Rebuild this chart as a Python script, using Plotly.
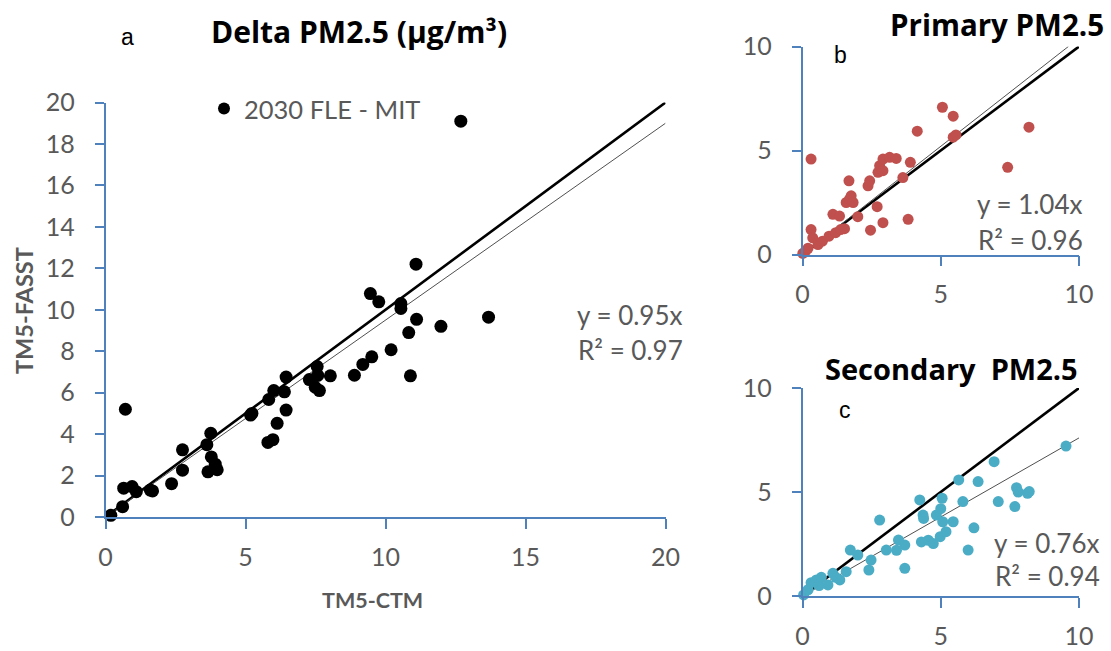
import plotly.graph_objects as go

# ---------------- data ----------------
# Panel a: Delta PM2.5 (µg/m³), 2030 FLE - MIT
a_ctm = [0.19, 0.61, 0.65, 0.95, 1.10, 1.60, 1.68, 0.71, 2.36, 2.75, 2.75, 3.62, 3.76, 3.78,
         3.66, 3.92, 3.99, 5.18, 5.23, 5.80, 5.98, 6.13, 6.45, 5.83, 6.01, 6.39, 6.45, 7.28,
         7.49, 7.64, 7.56, 7.58, 8.03, 8.89, 9.19, 9.51, 10.20, 10.89, 10.83, 11.11, 11.98,
         13.68, 9.76, 10.55, 10.55, 11.09, 9.46, 12.69]
a_fasst = [0.08, 0.50, 1.39, 1.47, 1.22, 1.30, 1.26, 5.20, 1.61, 2.26, 3.24, 3.49, 4.04, 2.90,
           2.18, 2.55, 2.28, 4.92, 5.00, 3.60, 3.73, 4.52, 5.16, 5.67, 6.10, 6.04, 6.75, 6.63,
           6.26, 6.10, 7.26, 6.83, 6.81, 6.84, 7.36, 7.73, 8.07, 6.81, 8.90, 9.54, 9.20,
           9.64, 10.38, 10.30, 10.06, 12.20, 10.78, 19.10]

# Panel b: Primary PM2.5
b_ctm = [0.01, 0.10, 0.20, 0.31, 0.31, 0.37, 0.56, 0.72, 0.96, 1.20, 1.38, 1.10, 1.34, 1.52,
         1.68, 1.58, 1.70, 1.76, 1.83, 2.00, 2.37, 2.43, 2.46, 2.70, 2.73, 2.79, 2.91, 2.91,
         2.91, 3.15, 3.39, 3.63, 3.82, 3.90, 4.15, 5.06, 5.45, 5.45, 5.55, 7.42, 8.19]
b_fasst = [0.05, 0.15, 0.30, 4.59, 1.20, 0.80, 0.48, 0.64, 0.88, 1.05, 1.20, 1.93, 1.85, 1.24,
           3.54, 2.50, 2.66, 2.82, 2.50, 1.82, 3.30, 3.54, 1.17, 2.30, 3.95, 4.27, 4.59, 4.03,
           1.53, 4.67, 4.62, 3.70, 1.69, 4.43, 5.93, 7.08, 6.65, 5.64, 5.75, 4.19, 6.12]

# Panel c: Secondary PM2.5
c_ctm = [0.04, 0.20, 0.31, 0.50, 0.60, 0.68, 0.92, 1.10, 1.20, 1.35, 1.58, 1.73, 2.00, 2.40,
         2.48, 2.79, 3.03, 3.40, 3.47, 3.70, 3.70, 4.24, 4.36, 4.38, 4.30, 4.55, 4.73, 4.84,
         5.00, 5.05, 5.07, 4.98, 5.19, 5.45, 5.65, 5.80, 5.99, 6.20, 6.35, 6.93, 7.08, 7.68,
         7.74, 7.80, 8.14, 8.20, 9.53]
c_fasst = [0.05, 0.30, 0.64, 0.77, 0.50, 0.90, 0.53, 1.09, 0.90, 0.77, 1.17, 2.21, 1.97, 1.25,
           1.73, 3.65, 2.21, 2.20, 2.69, 2.45, 1.33, 4.62, 3.89, 3.73, 2.60, 2.68, 2.52, 3.89,
           4.20, 4.70, 3.57, 2.85, 3.09, 3.57, 5.58, 4.54, 2.21, 3.28, 5.50, 6.46, 4.54, 4.30,
           5.21, 5.00, 4.94, 5.02, 7.21]

slope_a, r2_a = 0.95, 0.97
slope_b, r2_b = 1.04, 0.96
slope_c, r2_c = 0.76, 0.94

a_ticks = [0, 5, 10, 15, 20]
a_yticks = list(range(0, 21, 2))
bc_ticks = [0, 5, 10]

# ---------------- figure ----------------
W, H = 1111, 651
FONT = "Lato, 'Open Sans', sans-serif"
TFONT = "'Open Sans', Lato, sans-serif"
GREY = "#595959"
AXC = "#4F81BD"

def px(x):
    return x / W

def py(y):
    return 1 - y / H

fig = go.Figure()

def add_panel(xs, ys, slope, color, size, xa, ya, xmax, name=None, legend=False):
    # 1:1 line
    fig.add_trace(go.Scatter(x=[0, xmax], y=[0, xmax], mode="lines",
                             line=dict(color="black", width=2.6), xaxis=xa, yaxis=ya,
                             showlegend=False, hoverinfo="skip"))
    # fitted line
    xend = min(xmax, xmax / slope)
    fig.add_trace(go.Scatter(x=[0, xend], y=[0, slope * xend], mode="lines",
                             line=dict(color="#505050", width=1), xaxis=xa, yaxis=ya,
                             showlegend=False, hoverinfo="skip"))
    fig.add_trace(go.Scatter(x=xs, y=ys, mode="markers", name=name,
                             marker=dict(color=color, size=size, line=dict(width=0)),
                             xaxis=xa, yaxis=ya, showlegend=legend, cliponaxis=False))

add_panel(a_ctm, a_fasst, slope_a, "black", 13, "x", "y", 20, name="2030 FLE - MIT", legend=True)
add_panel(b_ctm, b_fasst, slope_b, "#C0504D", 11, "x2", "y2", 10)
add_panel(c_ctm, c_fasst, slope_c, "#4BACC6", 11, "x3", "y3", 10)

axis_common = dict(showline=True, linecolor=AXC, linewidth=1.5, ticks="outside",
                   tickcolor=AXC, tickwidth=1.5, showgrid=False, zeroline=False,
                   automargin=False, mirror=False,
                   tickfont=dict(family=FONT, size=25, color=GREY), fixedrange=True)

x_std = dict(ticklen=10, ticklabelstandoff=7)
y_std = dict(ticklen=9, ticklabelstandoff=15)

fig.update_layout(
    template="none",
    width=W, height=H, margin=dict(l=0, r=0, t=0, b=0, pad=0, autoexpand=False),
    paper_bgcolor="white", plot_bgcolor="white",
    font=dict(family=FONT, color=GREY),
    xaxis=dict(domain=[px(105.5), px(665.5)], range=[0, 20], tickvals=a_ticks,
               anchor="y", **axis_common, **x_std),
    yaxis=dict(domain=[py(517), py(102.5)], range=[0, 20], tickvals=a_yticks,
               anchor="x", **axis_common, **y_std),
    xaxis2=dict(domain=[px(802.5), px(1079)], range=[0, 10], tickvals=bc_ticks,
                anchor="y2", **axis_common, **x_std),
    yaxis2=dict(domain=[py(254.5), py(46.5)], range=[0, 10], tickvals=bc_ticks,
                anchor="x2", **axis_common, **y_std),
    xaxis3=dict(domain=[px(802.5), px(1079)], range=[0, 10], tickvals=bc_ticks,
                anchor="y3", **axis_common, **x_std),
    yaxis3=dict(domain=[py(596), py(388)], range=[0, 10], tickvals=bc_ticks,
                anchor="x3", **axis_common, **y_std),
    legend=dict(x=px(204), y=py(109), xanchor="left", yanchor="middle",
                bgcolor="rgba(0,0,0,0)", font=dict(family=FONT, size=25.5, color=GREY),
                itemsizing="constant"),
    showlegend=True,
    hovermode=False,
)

def ann(text, x, y, size, color="black", xanchor="center", bold=False, family=FONT, angle=0):
    fig.add_annotation(text=f"<b>{text}</b>" if bold else text, x=px(x), y=py(y),
                       xref="paper", yref="paper", showarrow=False, xanchor=xanchor,
                       yanchor="middle", textangle=angle,
                       font=dict(family=family, size=size, color=color))

ann("Delta PM2.5 (µg/m³)", 359, 31, 30, bold=True, family=TFONT)
ann("a", 127, 37, 23, family="Liberation Sans, Arial, sans-serif")
ann("b", 840, 55, 23, family="Liberation Sans, Arial, sans-serif")
ann("c", 845, 410, 23, family="Liberation Sans, Arial, sans-serif")
ann("Primary PM2.5", 1106, 25, 29.5, bold=True, xanchor="right", family=TFONT)
ann("Secondary\u00a0 PM2.5", 951.5, 368, 29, bold=True, family=TFONT)
ann("TM5-FASST", 24, 311, 23.5, color=GREY, bold=True, angle=-90)
ann("TM5-CTM", 372, 600, 21.5, color=GREY, bold=True)

ann(f"y = {slope_a:.2f}x", 685, 315, 26, color=GREY, xanchor="right")
ann(f"R² = {r2_a:.2f}", 685, 350, 26, color=GREY, xanchor="right")
ann(f"y = {slope_b:.2f}x", 1085, 204, 26, color=GREY, xanchor="right")
ann(f"R² = {r2_b:.2f}", 1085, 240, 26, color=GREY, xanchor="right")
ann(f"y = {slope_c:.2f}x", 1102, 543, 26, color=GREY, xanchor="right")
ann(f"R² = {r2_c:.2f}", 1102, 576, 26, color=GREY, xanchor="right")

fig.write_html("out.html")
